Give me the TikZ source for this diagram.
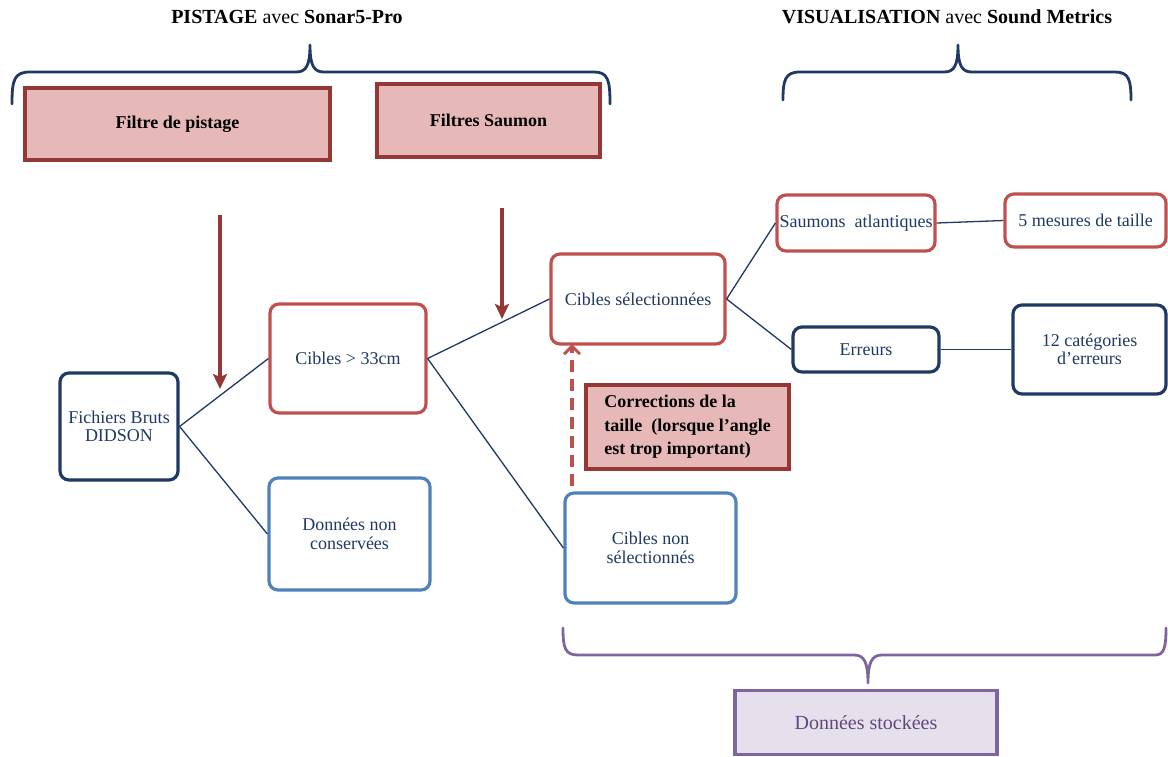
\documentclass[tikz,border=0pt]{standalone}
\usepackage{fontspec}
\setmainfont{Liberation Serif}
\usetikzlibrary{arrows.meta}
\definecolor{navy}{HTML}{1F3864}
\definecolor{boxred}{HTML}{C0504D}
\definecolor{boxblue}{HTML}{4F81BD}
\definecolor{darkred}{HTML}{953735}
\definecolor{pinkfill}{HTML}{E6B9B8}
\definecolor{purpleline}{HTML}{7E659F}
\definecolor{purplefill}{HTML}{E5E0EC}
\definecolor{purpletext}{HTML}{5F497A}
\begin{document}
\begin{tikzpicture}[x=1pt,y=-1pt,
  box/.style={draw, rounded corners=9pt, line width=3.2pt, align=center, text=navy,
    font=\fontsize{18}{18.5}\selectfont, inner sep=2pt},
  redbox/.style={box, draw=boxred},
  bluebox/.style={box, draw=boxblue},
  navybox/.style={box, draw=navy},
  filterbox/.style={draw=darkred, fill=pinkfill, line width=3.2pt, text=black,
    font=\bfseries\fontsize{18}{23.5}\selectfont},
  storebox/.style={draw=purpleline, fill=purplefill, line width=3.2pt, text=purpletext,
    font=\fontsize{20}{22}\selectfont},
  conn/.style={navy, line width=1.3pt},
  farrow/.style={darkred, line width=3.4pt, -{Stealth[length=15pt,width=14pt,inset=3pt]}},
  darrow/.style={boxred, line width=3.4pt, dash pattern=on 12pt off 7pt,
    -{Straight Barb[length=8pt,width=16pt,line width=3pt]}},
  brace/.style={line width=2.8pt, line cap=round, line join=round},
  title/.style={text=black, font=\fontsize{20}{22}\selectfont}
]
\useasboundingbox (0,0) rectangle (1168,756);

% titles
\node[title] (t1) at (287,17) {\textbf{PISTAGE} avec \textbf{Sonar5-Pro}};
\node[title] (t2) at (947,17) {\textbf{VISUALISATION} avec \textbf{Sound Metrics}};

% braces
\draw[brace, navy] (12,104) .. controls (12,80) and (14,72) .. (30,72) -- (296,72)
  .. controls (306,72) and (310,66) .. (310,45)
  .. controls (310,66) and (314,72) .. (324,72) -- (594,72)
  .. controls (608,72) and (610,80) .. (610,104);
\draw[brace, navy] (783,100) .. controls (783,80) and (785,72) .. (800,72) -- (944,72)
  .. controls (954,72) and (958,66) .. (958,45)
  .. controls (958,66) and (962,72) .. (972,72) -- (1115,72)
  .. controls (1129,72) and (1131,80) .. (1131,100);
\draw[brace, purpleline] (563,628) .. controls (563,648) and (565,655) .. (578,655) -- (854,655)
  .. controls (864,655) and (868,662) .. (868,683)
  .. controls (868,662) and (872,655) .. (882,655) -- (1155,655)
  .. controls (1164,655) and (1166,648) .. (1166,628);

% filter boxes
\node[filterbox, minimum width=305, minimum height=72] (filtre) at (177.5,124) {Filtre de pistage};
\node[filterbox, minimum width=223, minimum height=73] (fsaumon) at (488.5,120.5) {Filtres Saumon};
\node[filterbox, minimum width=203, minimum height=84, align=left] (corr) at (687.5,427)
  {Corrections de la\\taille\ \ (lorsque l’angle\\est trop important)};

% main boxes
\node[navybox, minimum width=118, minimum height=107] (didson) at (119,426.5) {Fichiers Bruts\\DIDSON};
\node[redbox, minimum width=156, minimum height=109] (c33) at (348,358.5) {Cibles > 33cm};
\node[bluebox, minimum width=161, minimum height=112] (dnc) at (349.5,534) {Données non\\conservées};
\node[redbox, minimum width=174, minimum height=90] (csel) at (638,299) {Cibles sélectionnées};
\node[bluebox, minimum width=171, minimum height=110] (cns) at (650.5,548) {Cibles non\\sélectionnés};
\node[redbox, minimum width=158, minimum height=56] (saum) at (856,223) {Saumons\ \ atlantiques};
\node[redbox, minimum width=161, minimum height=53] (mes) at (1085.5,220.5) {5 mesures de taille};
\node[navybox, minimum width=146, minimum height=45] (err) at (866,349.5) {Erreurs};
\node[navybox, minimum width=153, minimum height=89] (cat) at (1089.5,349.5) {12 catégories\\d’erreurs};
\node[storebox, minimum width=262, minimum height=64] (stock) at (866,722.5) {Données stockées};

% connectors
\draw[conn] (didson.east) -- (c33.west);
\draw[conn] (didson.east) -- (dnc.west);
\draw[conn] (c33.east) -- (csel.west);
\draw[conn] (c33.east) -- (cns.west);
\draw[conn] (csel.east) -- (saum.west);
\draw[conn] (csel.east) -- (err.west);
\draw[conn] (saum.east) -- (mes.west);
\draw[conn] (err.east) -- (cat.west);

% arrows
\coordinate (a1s) at (220,215);
\coordinate (a1e) at (220,389);
\coordinate (a2s) at (502,208);
\coordinate (a2e) at (502,319);
\coordinate (d1s) at (572,486);
\coordinate (d1e) at (572,344);
\draw[farrow] (a1s) -- (a1e);
\draw[farrow] (a2s) -- (a2e);
\draw[darrow] (d1s) -- (d1e);
\end{tikzpicture}
\end{document}
